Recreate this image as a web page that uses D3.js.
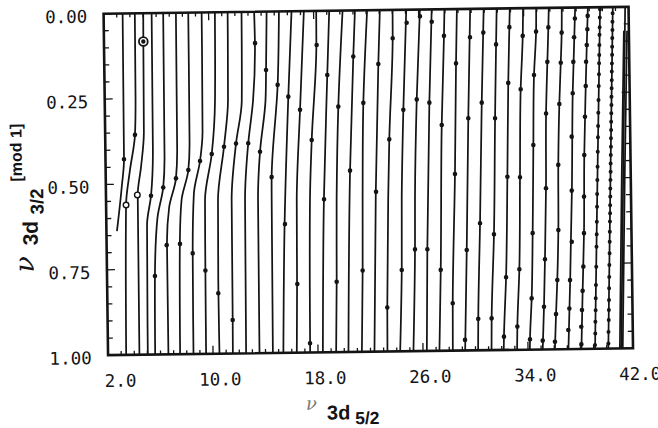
<!DOCTYPE html>
<html><head><meta charset="utf-8">
<script src="https://cdn.jsdelivr.net/npm/d3@7"></script>
<style>
html,body{margin:0;padding:0;background:#fff;}
svg{display:block;}
</style></head><body>
<svg id="chart" width="658" height="428"></svg>
<script>
// Lu–Fano plot: ν(3d3/2) mod 1 against ν(3d5/2)

const xTicks = [2, 10, 18, 26, 34, 42];
const xLabels = ["2.0", "10.0", "18.0", "26.0", "34.0", "42.0"];
const yTicks = [0, 0.25, 0.5, 0.75, 1];
const yLabels = ["0.00", "0.25", "0.50", "0.75", "1.00"];

// calculated branches; each knot is [ν3d3/2 mod 1, ν3d5/2]
const branches = [
  [[0,3.45],[0.427,3.41],[0.508,3.21],[0.605,2.91],[0.637,2.8]],
  [[0,4.38],[0.25,4.35],[0.356,4.27],[0.46,3.85],[0.561,3.52],[1,3.38]],
  [[0,5.02],[0.083,5.0],[0.35,4.95],[0.45,4.7],[0.532,4.42],[1,4.39]],
  [[0,5.66],[0.4,5.62],[0.535,5.43],[0.62,5.1],[1,5.03]],
  [[0,6.54],[0.42,6.5],[0.511,6.37],[0.6,5.9],[0.77,5.65],[1,5.59]],
  [[0,7.51],[0.4,7.47],[0.485,7.35],[0.57,6.8],[0.68,6.6],[1,6.6]],
  [[0,8.45],[0.38,8.42],[0.461,8.3],[0.55,7.75],[0.677,7.58],[1,7.49]],
  [[0,9.47],[0.35,9.42],[0.435,9.2],[0.53,8.7],[0.705,8.55],[1,8.51]],
  [[0,10.48],[0.26,10.4],[0.415,10.1],[0.55,9.54],[0.756,9.5],[1,9.47]],
  [[0,11.45],[0.26,11.39],[0.394,11.04],[0.55,10.53],[0.823,10.47],[1,10.49]],
  [[0,12.51],[0.26,12.44],[0.385,11.96],[0.55,11.57],[0.902,11.53],[1,11.51]],
  [[0,13.47],[0.09,13.5],[0.26,13.3],[0.385,12.89],[0.55,12.59],[1,12.52]],
  [[0,14.42],[0.171,14.32],[0.26,14.25],[0.41,13.78],[0.55,13.58],[1,13.54]],
  [[0,15.36],[0.215,15.19],[0.485,14.64],[0.55,14.62],[1,14.56]],
  [[0,16.32],[0.25,15.99],[0.623,15.58],[1,15.36]],
  [[0,17.26],[0.289,16.87],[0.55,16.53],[0.799,16.47],[1,16.38]],
  [[0,18.2],[0.1,18.18],[0.378,17.73],[0.55,17.54],[1,17.4]],
  [[0,19.19],[0.188,18.98],[0.552,18.6],[1,18.37]],
  [[0,20.21],[0.281,19.79],[0.55,19.57],[0.794,19.49],[1,19.38]],
  [[0,21.15],[0.135,20.98],[0.469,20.62],[1,20.32]],
  [[0,22.08],[0.271,21.7],[0.55,21.55],[0.762,21.48],[1,21.34]],
  [[0,23.05],[0.158,22.88],[0.532,22.56],[1,22.3]],
  [[0,24.02],[0.083,24.0],[0.379,23.64],[0.55,23.5],[0.871,23.32],[1,23.29]],
  [[0,25.06],[0.293,24.74],[0.55,24.53],[0.762,24.46],[1,24.26]],
  [[0,26.1],[0.263,25.77],[0.55,25.54],[0.702,25.49],[1,25.27]],
  [[0,27.0],[0.273,26.73],[0.702,26.43],[1,26.29]],
  [[0,27.97],[0.078,27.91],[0.339,27.65],[0.763,27.43],[1,27.25]],
  [[0,28.92],[0.159,28.8],[0.483,28.61],[0.861,28.31],[1,28.27]],
  [[0,29.93],[0.32,29.68],[0.706,29.43],[1,29.21]],
  [[0,30.96],[0.275,30.72],[0.628,30.47],[0.908,30.24],[1,30.2]],
  [[0,31.95],[0.105,31.87],[0.321,31.72],[0.661,31.52],[0.907,31.26],[1,31.22]],
  [[0,32.95],[0.055,32.9],[0.218,32.76],[0.493,32.6],[0.787,32.4],[0.961,32.18],[1,32.15]],
  [[0,33.96],[0.081,33.91],[0.237,33.7],[0.495,33.56],[0.764,33.42],[0.932,33.21],[1,33.17]],
  [[0,34.96],[0.069,34.93],[0.196,34.73],[0.401,34.61],[0.659,34.47],[0.85,34.33],[0.97,34.16],[1,34.14]],
  [[0,35.92],[0.057,35.87],[0.158,35.76],[0.309,35.61],[0.528,35.53],[0.736,35.38],[0.875,35.26],[1,35.12]],
  [[0,36.91],[0.073,36.88],[0.161,36.78],[0.282,36.63],[0.46,36.49],[0.651,36.43],[0.797,36.3],[0.897,36.17],[1,36.05]],
  [[0,37.93],[0.251,37.66],[0.536,37.5],[0.798,37.28],[1,37.08]],
  [[0,38.9],[0.11,38.78],[0.23,38.66],[0.432,38.48],[0.661,38.38],[0.83,38.22],[1,38.07]],
  [[0,39.83],[0.5,39.46],[1,39.11]],
  [[0,40.8],[0.5,40.45],[1,40.12]],
  [[0,41.74],[0.5,41.42],[1,41.11]],
  [[0.07,41.62],[0.5,41.31],[1,41.0]],
  [[0.07,41.86],[0.5,41.54],[1,41.22]]
];

// observed levels, [ν3d5/2, ν3d3/2 mod 1]
const levels = [
  [3.41,0.427],[4.27,0.356],[5.43,0.535],[6.37,0.511],[7.35,0.485],[8.3,0.461],[9.2,0.435],
  [10.1,0.415],[11.04,0.394],[11.96,0.385],[12.89,0.385],[13.78,0.41],[14.64,0.485],
  [5.65,0.77],[6.58,0.68],[7.59,0.677],[8.55,0.705],[9.5,0.756],[10.46,0.823],[11.53,0.902],
  [13.51,0.092],[14.32,0.171],[15.19,0.215],[15.99,0.25],[16.87,0.289],[17.73,0.378],[18.61,0.552],
  [18.2,0.1],[18.98,0.188],[19.79,0.281],[20.62,0.469],[20.98,0.135],[21.7,0.271],[22.58,0.532],
  [22.88,0.158],[23.64,0.379],[24.0,0.083],[24.74,0.293],[25.08,0.038],[25.77,0.263],[26.1,0.02],
  [15.61,0.623],[16.49,0.799],[17.4,0.973],[19.49,0.794],[21.48,0.762],[23.32,0.871],[24.46,0.762],[25.49,0.702],
  [26.99,0.036],[26.73,0.273],[27.91,0.078],[27.65,0.339],[28.8,0.159],[28.61,0.483],
  [29.89,0.083],[29.68,0.32],[30.91,0.07],[30.72,0.275],[31.87,0.105],[31.72,0.321],
  [32.9,0.055],[32.76,0.218],[32.6,0.493],[33.91,0.081],[33.7,0.237],[33.56,0.495],
  [34.93,0.069],[34.73,0.196],[34.61,0.401],[35.87,0.057],[35.76,0.158],[35.61,0.309],[35.53,0.528],
  [36.88,0.073],[36.78,0.161],[36.63,0.282],[36.49,0.46],
  [37.9,0.032],[37.82,0.087],[37.74,0.159],[37.66,0.251],[37.54,0.378],[37.49,0.536],
  [38.88,0.025],[38.84,0.064],[38.78,0.11],[38.71,0.159],[38.66,0.23],[38.57,0.32],[38.48,0.432],[38.42,0.554],
  [26.43,0.702],[27.43,0.763],[28.31,0.861],[29.43,0.706],[29.21,0.969],[30.47,0.628],[30.24,0.908],
  [31.52,0.661],[31.26,0.907],[32.4,0.787],[32.18,0.961],[33.42,0.764],[33.21,0.932],
  [34.47,0.659],[34.33,0.85],[34.16,0.97],[35.38,0.736],[35.26,0.875],[35.13,0.974],
  [36.43,0.651],[36.3,0.797],[36.17,0.897],[36.06,0.978],[37.44,0.686],[37.27,0.798],[37.19,0.881],[37.09,0.944],
  [38.38,0.661],[38.3,0.759],[38.22,0.83],[38.15,0.886],[38.08,0.935],[38.07,0.986]
];

// closely spaced levels on the two branches next to the limit
const levelsNear39 = [
  [39.82,0.006],[39.8,0.03],[39.78,0.059],[39.76,0.081],[39.74,0.111],[39.72,0.14],[39.7,0.164],
  [39.68,0.196],[39.65,0.231],[39.62,0.272],[39.59,0.309],[39.56,0.348],[39.54,0.381],[39.51,0.423],
  [39.48,0.467],[39.45,0.506],[39.42,0.547],[39.4,0.584],[39.37,0.628],[39.35,0.665],[39.32,0.701],
  [39.28,0.76],[39.24,0.813],[39.21,0.852],[39.19,0.887],[39.16,0.921],[39.14,0.955],[39.11,0.989]
];
const levelsNear40 = [
  [40.78,0.018],[40.76,0.043],[40.75,0.067],[40.73,0.091],[40.71,0.116],[40.7,0.14],[40.68,0.165],
  [40.66,0.189],[40.65,0.214],[40.63,0.238],[40.61,0.263],[40.6,0.287],[40.58,0.311],[40.56,0.336],
  [40.55,0.36],[40.53,0.384],[40.52,0.409],[40.5,0.433],[40.48,0.458],[40.47,0.482],[40.45,0.506],
  [40.43,0.531],[40.42,0.555],[40.4,0.58],[40.39,0.604],[40.37,0.628],[40.35,0.658],[40.33,0.687],
  [40.31,0.721],[40.28,0.755],[40.26,0.79],[40.24,0.823],[40.22,0.858],[40.2,0.887],[40.18,0.916],
  [40.15,0.951],[40.13,0.985]
];

// levels drawn as open circles and as a ringed point
const openLevels = [[3.52,0.561],[4.39,0.532]];
const ringedLevels = [[5.0,0.083]];

const svg = d3.select("#chart");
const root = svg.append("g").attr("transform", "rotate(-0.75,368.3,181)");

const x = d3.scaleLinear().domain([2, 42]).range([105.8, 630.8]);
const y = d3.scaleLinear().domain([0, 1]).range([10.25, 351.75]);
const ink = "#141414";

root.append("clipPath").attr("id", "plotClip").append("rect")
  .attr("x", x(2)).attr("y", y(0))
  .attr("width", x(42) - x(2)).attr("height", y(1) - y(0));

const plot = root.append("g").attr("clip-path", "url(#plotClip)");

const branchLine = d3.line()
  .x(d => x(d[1]))
  .y(d => y(d[0]))
  .curve(d3.curveMonotoneY);

plot.selectAll("path.branch").data(branches).join("path")
  .attr("class", "branch")
  .attr("d", branchLine)
  .attr("fill", "none")
  .attr("stroke", ink)
  .attr("stroke-width", 1.75);

plot.selectAll("circle.level").data(levels).join("circle")
  .attr("class", "level")
  .attr("cx", d => x(d[0])).attr("cy", d => y(d[1]))
  .attr("r", 2.3).attr("fill", ink);

plot.selectAll("circle.dense").data(levelsNear39.concat(levelsNear40)).join("circle")
  .attr("class", "dense")
  .attr("cx", d => x(d[0])).attr("cy", d => y(d[1]))
  .attr("r", 2.0).attr("fill", ink);

plot.selectAll("circle.open").data(openLevels).join("circle")
  .attr("class", "open")
  .attr("cx", d => x(d[0])).attr("cy", d => y(d[1]))
  .attr("r", 2.8).attr("fill", "#fff").attr("stroke", ink).attr("stroke-width", 1.4);

const ring = plot.selectAll("g.ringed").data(ringedLevels).join("g").attr("class", "ringed");
ring.append("circle")
  .attr("cx", d => x(d[0])).attr("cy", d => y(d[1]))
  .attr("r", 4.4).attr("fill", "#fff").attr("stroke", ink).attr("stroke-width", 1.8);
ring.append("circle")
  .attr("cx", d => x(d[0])).attr("cy", d => y(d[1]))
  .attr("r", 2.2).attr("fill", ink);

// tick marks on all four sides, pointing inward
const unitTicks = d3.range(2, 43);
const tickLen = d => xTicks.includes(d) ? 8 : 4;
root.selectAll("line.xtop").data(unitTicks).join("line")
  .attr("x1", d => x(d)).attr("x2", d => x(d))
  .attr("y1", y(0)).attr("y2", d => y(0) + tickLen(d))
  .attr("stroke", ink).attr("stroke-width", 1.3);
root.selectAll("line.xbot").data(unitTicks).join("line")
  .attr("x1", d => x(d)).attr("x2", d => x(d))
  .attr("y1", y(1)).attr("y2", d => y(1) - tickLen(d))
  .attr("stroke", ink).attr("stroke-width", 1.3);

const fineY = d3.range(0, 21).map(i => i / 20);
const yLen = d => (Math.round(d * 20) % 5 === 0) ? 8 : 5;
root.selectAll("line.yleft").data(fineY).join("line")
  .attr("x1", x(2)).attr("x2", d => x(2) + yLen(d))
  .attr("y1", d => y(d)).attr("y2", d => y(d))
  .attr("stroke", ink).attr("stroke-width", 1.3);
root.selectAll("line.yright").data(fineY).join("line")
  .attr("x1", x(42)).attr("x2", d => x(42) - yLen(d))
  .attr("y1", d => y(d)).attr("y2", d => y(d))
  .attr("stroke", ink).attr("stroke-width", 1.3);

// frame
root.append("rect")
  .attr("x", x(2)).attr("y", y(0))
  .attr("width", x(42) - x(2)).attr("height", y(1) - y(0))
  .attr("fill", "none").attr("stroke", ink).attr("stroke-width", 2.6);

// tick labels
const mono = "'DejaVu Sans Mono', monospace";
root.selectAll("text.xl").data(xTicks).join("text")
  .attr("class", "xl")
  .attr("x", d => x(d) + 28).attr("y", 383.5)
  .attr("text-anchor", "end")
  .attr("font-family", mono).attr("font-size", 17.5).attr("fill", ink)
  .text((d, i) => xLabels[i]);

root.selectAll("text.yl").data(yTicks).join("text")
  .attr("class", "yl")
  .attr("x", 89.4).attr("y", d => y(d) + 8.8)
  .attr("text-anchor", "end")
  .attr("font-family", mono).attr("font-size", 17.5).attr("fill", ink)
  .text((d, i) => yLabels[i]);

// axis titles
const sans = "'Liberation Sans', Arial, sans-serif";
const serif = "'DejaVu Serif', serif";

const yTitle = root.append("g").attr("transform", "rotate(-90)");
yTitle.append("text").attr("x", -268).attr("y", 32.5)
  .attr("font-family", serif).attr("font-style", "italic").attr("font-size", 27).attr("fill", ink)
  .text("ν");
yTitle.append("text").attr("x", -241).attr("y", 37)
  .attr("font-family", sans).attr("font-weight", "bold").attr("font-size", 21).attr("fill", ink)
  .text("3d");
yTitle.append("text").attr("x", -210).attr("y", 43)
  .attr("font-family", sans).attr("font-weight", "bold").attr("font-size", 18.5).attr("fill", ink)
  .text("3/2");
yTitle.append("text").attr("x", -177).attr("y", 22)
  .attr("font-family", sans).attr("font-weight", "bold").attr("font-size", 16).attr("fill", ink)
  .text("[mod 1]");

root.append("text").attr("x", 303).attr("y", 409)
  .attr("font-family", serif).attr("font-style", "italic").attr("font-size", 18).attr("fill", "#777")
  .text("ν");
root.append("text").attr("x", 324).attr("y", 419)
  .attr("font-family", sans).attr("font-weight", "bold").attr("font-size", 20).attr("fill", ink)
  .text("3d");
root.append("text").attr("x", 352).attr("y", 424)
  .attr("font-family", sans).attr("font-weight", "bold").attr("font-size", 17.5).attr("fill", ink)
  .text("5/2");
</script>
</body></html>
